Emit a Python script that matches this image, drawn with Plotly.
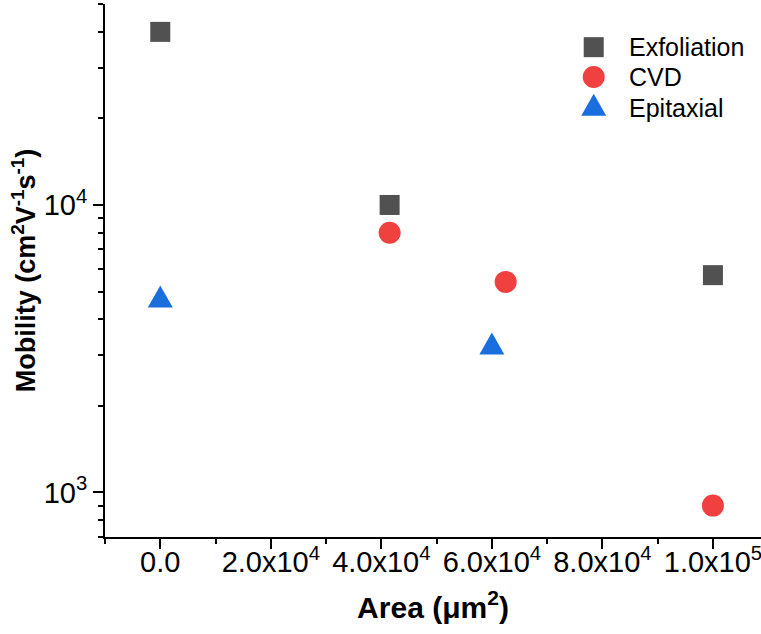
import plotly.graph_objects as go
import math

# Carrier mobility vs. sample area for three growth methods
exf_area = [0, 41500, 100000]
exf_mobility = [40000, 10000, 5700]

cvd_area = [41500, 62500, 100000]
cvd_mobility = [8000, 5400, 900]

epi_area = [0, 60000]
epi_mobility = [4800, 3300]

x_tickvals = [0, 20000, 40000, 60000, 80000, 100000]
x_ticktext = ["0.0", "2.0x10<sup>4</sup>", "4.0x10<sup>4</sup>",
              "6.0x10<sup>4</sup>", "8.0x10<sup>4</sup>", "1.0x10<sup>5</sup>"]
x_minor = [-10000, 10000, 30000, 50000, 70000, 90000]

y_tickvals = [1000, 10000]
y_ticktext = ["10<sup>3</sup>", "10<sup>4</sup>"]
y_minor = [700, 800, 900, 2000, 3000, 4000, 5000, 6000, 7000, 8000, 9000,
           20000, 30000, 40000, 50000]

series_names = ["Exfoliation", "CVD", "Epitaxial"]
colors = ["#515151", "#F14040", "#1A6FDF"]

FONT = "Liberation Sans, Arial, sans-serif"
TRI = "M-12.5,-11 L12.5,-11 L0,11 Z"  # triangle path in pixels, y up

fig = go.Figure()

fig.add_trace(go.Scatter(
    x=exf_area, y=exf_mobility, mode="markers", name=series_names[0],
    marker=dict(symbol="square", size=20, color=colors[0], line=dict(width=0)),
    showlegend=False))
fig.add_trace(go.Scatter(
    x=cvd_area, y=cvd_mobility, mode="markers", name=series_names[1],
    marker=dict(symbol="circle", size=22, color=colors[1], line=dict(width=0)),
    showlegend=False))
# Epitaxial points: hover carrier, the visible triangles are drawn as shapes
fig.add_trace(go.Scatter(
    x=epi_area, y=epi_mobility, mode="markers", name=series_names[2],
    marker=dict(symbol="triangle-up", size=22, color=colors[2], opacity=0),
    showlegend=False))

shapes = []
for xa, ya in zip(epi_area, epi_mobility):
    shapes.append(dict(
        type="path", xref="x", yref="y",
        xsizemode="pixel", ysizemode="pixel",
        xanchor=xa, yanchor=ya,
        path=TRI, fillcolor=colors[2], line=dict(width=0)))

# Legend drawn in paper space so the symbols keep their full size
legend_x = 0.745
legend_text_y = [0.919, 0.863, 0.805]
legend_sym_y = [0.919, 0.863, 0.811]
annotations = []
for i, (name, col) in enumerate(zip(series_names, colors)):
    sym = dict(xref="paper", yref="paper", xsizemode="pixel", ysizemode="pixel",
               xanchor=legend_x, yanchor=legend_sym_y[i],
               fillcolor=col, line=dict(width=0))
    if i == 0:
        sym.update(type="rect", x0=-10, x1=10, y0=-10, y1=10)
    elif i == 1:
        sym.update(type="circle", x0=-11, x1=11, y0=-11, y1=11)
    else:
        sym.update(type="path", path=TRI)
    shapes.append(sym)
    annotations.append(dict(
        xref="paper", yref="paper", x=legend_x + 0.05, y=legend_text_y[i],
        xanchor="left", yanchor="middle", showarrow=False,
        text=name, font=dict(family=FONT, size=25, color="black")))

fig.update_layout(
    width=761, height=634,
    margin=dict(l=105, r=0, t=4, b=97),
    paper_bgcolor="white", plot_bgcolor="white",
    shapes=shapes, annotations=annotations,
    showlegend=False,
    font=dict(family=FONT, color="black"),
)

axis_common = dict(
    showline=True, linecolor="black", linewidth=2,
    ticks="outside", ticklen=10, tickwidth=2, tickcolor="black",
    showgrid=False, zeroline=False, mirror=False,
    tickfont=dict(family=FONT, size=29, color="black"),
    ticklabeloverflow="allow",
)

fig.update_xaxes(
    range=[-10000, 108700], tickmode="array",
    tickvals=x_tickvals, ticktext=x_ticktext,
    ticklabelstandoff=-12,
    minor=dict(tickmode="array", tickvals=x_minor, ticklen=5,
               tickwidth=2, tickcolor="black", ticks="outside", showgrid=False),
    title=dict(text="<b>Area (μm<sup>2</sup>)</b>",
               font=dict(family=FONT, size=30, color="black"), standoff=20),
    **axis_common)

fig.update_yaxes(
    type="log", range=[math.log10(700), math.log10(50000)],
    tickmode="array", tickvals=y_tickvals, ticktext=y_ticktext,
    minor=dict(tickmode="array", tickvals=y_minor, ticklen=5,
               tickwidth=2, tickcolor="black", ticks="outside", showgrid=False),
    title=dict(text="<b>Mobility (cm<sup>2</sup>V<sup>-1</sup>s<sup>-1</sup>)</b>",
               font=dict(family=FONT, size=27, color="black"), standoff=0),
    **axis_common)

fig.write_html("out.html")
